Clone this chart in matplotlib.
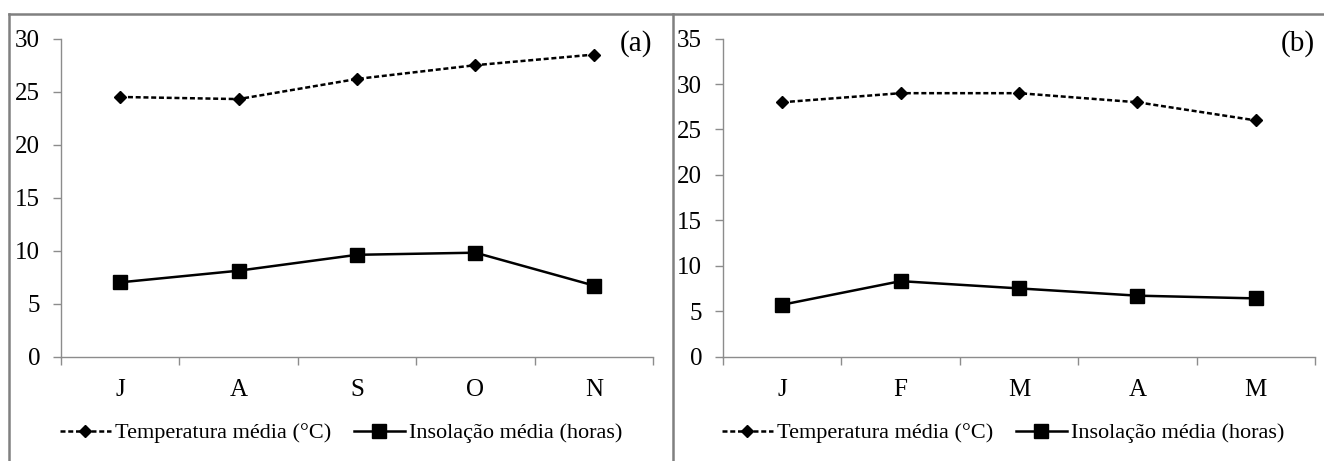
import matplotlib
matplotlib.use("Agg")
import matplotlib.pyplot as plt
from matplotlib.lines import Line2D

plt.rcParams['font.family'] = ['Liberation Serif', 'DejaVu Serif']

months_a = ["J", "A", "S", "O", "N"]
temp_a = [24.5, 24.3, 26.2, 27.5, 28.5]
insol_a = [7.0, 8.1, 9.6, 9.8, 6.7]

months_b = ["J", "F", "M", "A", "M"]
temp_b = [28.0, 29.0, 29.0, 28.0, 26.0]
insol_b = [5.7, 8.3, 7.5, 6.7, 6.4]

label_temp = "Temperatura média (°C)"
label_insol = "Insolação média (horas)"

W, H = 1324, 461
fig = plt.figure(figsize=(W / 100, H / 100), dpi=100)
fig.patch.set_facecolor("white")

ax_w = 592 / W
ax_b = 1 - 356.5 / H
ax_h = (356.5 - 38.7) / H
ax_a = fig.add_axes([61 / W, ax_b, ax_w, ax_h])
ax_bb = fig.add_axes([723 / W, ax_b, ax_w, ax_h])

spine_col = "#8c8c8c"


def draw(ax, cats, temp, insol, ymax, tag):
    x = [i + 0.5 for i in range(len(cats))]
    ax.plot(x, temp, color="black", lw=1.8, ls=(0, (2.0, 1.1)), marker="D",
            markersize=6, label=label_temp)
    ax.plot(x, insol, color="black", lw=1.8, ls="-", marker="s",
            markersize=9.5, label=label_insol)
    ax.set_xlim(0, len(cats))
    ax.set_ylim(0, ymax)
    ax.set_yticks(range(0, ymax + 1, 5))
    ax.set_xticks(range(0, len(cats) + 1))
    ax.set_xticklabels([])
    ax.set_xticks(x, minor=True)
    ax.set_xticklabels(cats, minor=True)
    ax.tick_params(axis="x", which="major", length=6, color=spine_col, width=1)
    ax.tick_params(axis="x", which="minor", length=0, pad=16, labelsize=18)
    ax.tick_params(axis="y", length=6, color=spine_col, width=1, pad=9, labelsize=18)
    for s in ["top", "right"]:
        ax.spines[s].set_visible(False)
    for s in ["left", "bottom"]:
        ax.spines[s].set_color(spine_col)
        ax.spines[s].set_linewidth(1)
    ax.text(0.971, 0.986, tag, transform=ax.transAxes, ha="center", va="center",
            fontsize=21)
    ax.legend(loc="center", bbox_to_anchor=(0.473, -0.241), ncol=2, frameon=False,
              fontsize=16, handlelength=2.3, handletextpad=0.2, columnspacing=1.0,
              borderaxespad=0)
    ax.set_facecolor("white")


draw(ax_a, months_a, temp_a, insol_a, 30, "(a)")
draw(ax_bb, months_b, temp_b, insol_b, 35, "(b)")

frame_col = "#808080"
fig.add_artist(Line2D([9 / W, 1], [1 - 14 / H, 1 - 14 / H], color=frame_col, lw=1.8,
                      transform=fig.transFigure))
fig.add_artist(Line2D([9 / W, 9 / W], [0, 1 - 14 / H], color=frame_col, lw=1.8,
                      transform=fig.transFigure))
fig.add_artist(Line2D([673 / W, 673 / W], [0, 1 - 14 / H], color=frame_col, lw=1.8,
                      transform=fig.transFigure))

fig.savefig("out.png", dpi=100)
